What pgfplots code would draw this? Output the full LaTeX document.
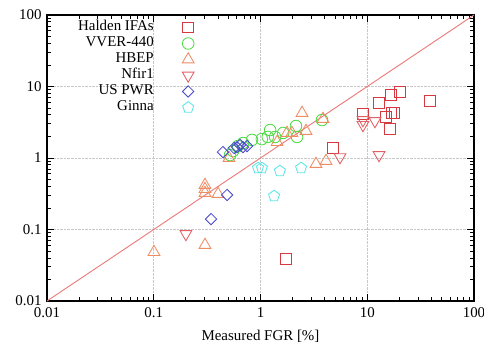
\documentclass[border=0pt]{standalone}
\usepackage{fontspec}
\setmainfont{Liberation Serif}
\usepackage{pgfplots}
\pgfplotsset{compat=1.18}

\definecolor{cHalden}{RGB}{214,58,64}
\definecolor{cVVER}{RGB}{80,220,70}
\definecolor{cHBEP}{RGB}{238,140,100}
\definecolor{cNfir}{RGB}{226,96,100}
\definecolor{cPWR}{RGB}{70,70,205}
\definecolor{cGinna}{RGB}{90,230,230}
\definecolor{cDiag}{RGB}{236,120,120}

\begin{document}
\begin{tikzpicture}
\begin{axis}[
  xmode=log, ymode=log,
  xmin=0.01, xmax=100, ymin=0.01, ymax=100,
  width=427bp, height=286bp, scale only axis,
  xtick={0.01,0.1,1,10,100}, xticklabels={0.01,0.1,1,10,100},
  ytick={0.01,0.1,1,10,100}, yticklabels={0.01,0.1,1,10,100},
  /pgf/number format/assume math mode=true,
  tick label style={font=\fontsize{15}{15}\selectfont},
  xticklabel style={yshift=-3bp},
  yticklabel style={xshift=-2bp},
  grid=major,
  major grid style={densely dotted, black!22, line width=0.6bp},
  tick align=inside,
  major tick length=7bp, minor tick length=4bp,
  every tick/.style={black, line width=0.9bp},
  axis line style={line width=1.3bp},
  xlabel={Measured FGR [\%]},
  xlabel style={font=\fontsize{15}{15}\selectfont, yshift=-6bp},
  legend plot pos=right,
  legend cell align=right,
  legend style={draw=none, fill=none, at={(axis description cs:0.070,0.985)}, anchor=north west,
    font=\fontsize{15}{15}\selectfont, row sep=0bp, inner sep=0bp,
    nodes={inner sep=1bp, text height=10bp, text depth=4bp}},
  legend image code/.code={\path (0bp,0bp) (40bp,0bp); \draw[#1] plot coordinates {(33bp,0bp)};},
  every axis plot/.append style={line width=0.85bp},
]
\coordinate (bl) at (rel axis cs:0,0);
\coordinate (tr) at (rel axis cs:1,1);

% y = x reference line
\addplot[cDiag, line width=0.9bp, forget plot] coordinates {(0.01,0.01) (100,100)};

\addplot[only marks, mark=square, mark size=5.3bp, cHalden] coordinates {
  (9.12,4.12) (12.9,5.88) (16.7,7.60) (20.3,8.38) (38.7,6.27) (15.0,3.74)
  (16.8,4.26) (18.0,4.26) (16.3,2.55) (4.78,1.38) (1.73,0.0387)
};
\addlegendentry{Halden IFAs}

\addplot[only marks, mark=o, mark size=5.8bp, cVVER] coordinates {
  (0.518,1.10) (0.553,1.25) (0.615,1.47) (0.686,1.62) (0.832,1.79) (1.03,1.84)
  (1.23,2.46) (1.17,1.97) (1.37,1.97) (1.63,2.24) (2.15,2.80) (2.20,1.97) (3.77,3.40)
};
\addlegendentry{VVER-440}

\addplot[only marks, mark=triangle, mark size=6.8bp, cHBEP] coordinates {
  (0.1005,0.0484) (0.302,0.0607) (0.302,0.419) (0.302,0.368) (0.302,0.324)
  (0.400,0.314) (2.45,4.26) (1.43,1.67) (1.77,2.24) (1.97,2.24) (2.67,2.39)
  (3.85,3.51) (3.31,0.824) (4.11,0.908) (0.507,1.0)
};
\addlegendentry{HBEP}

\addplot[only marks, mark=triangle, mark size=6.8bp, mark options={rotate=180}, cNfir] coordinates {
  (9.12,2.90) (9.12,3.40) (11.8,3.29) (5.56,1.03) (12.9,1.10) (0.200,0.0865)
};
\addlegendentry{Nfir1}

\addplot[only marks, mark=square, mark size=4bp, mark options={rotate=45}, cPWR] coordinates {
  (0.486,0.304) (0.344,0.140) (0.445,1.21) (0.603,1.42) (0.643,1.52)
  (0.686,1.42) (0.748,1.47) (0.565,1.38)
};
\addlegendentry{US PWR}

\addplot[only marks, mark=pentagon, mark size=5.8bp, cGinna] coordinates {
  (0.948,0.725) (1.03,0.725) (1.52,0.658) (2.40,0.725) (1.34,0.294)
};
\addlegendentry{Ginna}
\end{axis}
\pgfresetboundingbox
\path ([shift={(-47bp,-46bp)}]bl) rectangle ([shift={(10bp,15bp)}]tr);
\end{tikzpicture}
\end{document}
